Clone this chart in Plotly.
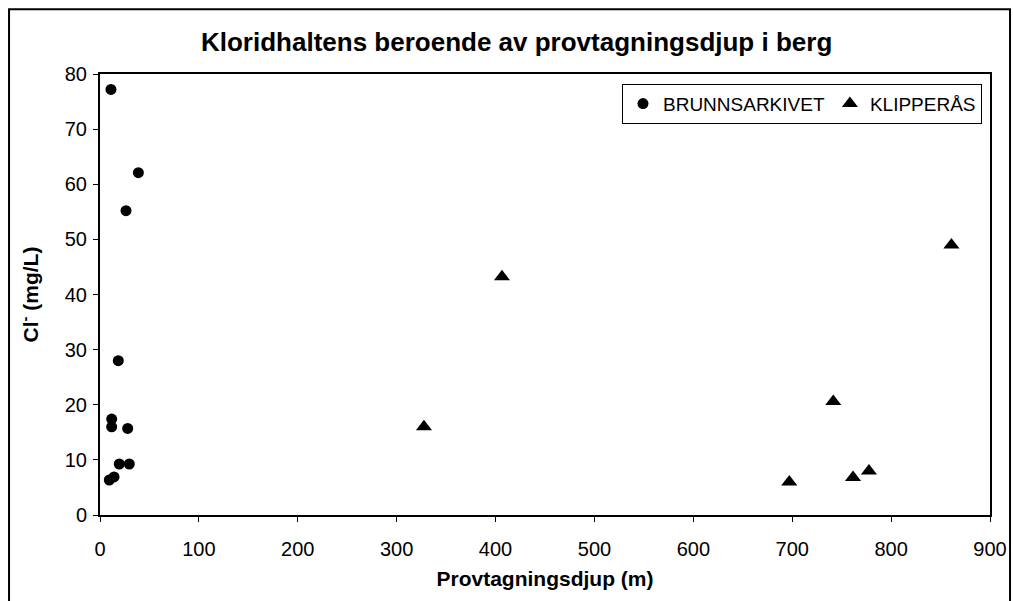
import plotly.graph_objects as go

# Sampling depth (m) and chloride concentration (mg/L) per well
brunnsarkivet_depth = [11.1, 38.8, 26.3, 18.5, 11.8, 11.8, 28.0, 19.5, 29.6, 9.4, 14.2]
brunnsarkivet_cl = [77.2, 62.1, 55.2, 28.0, 17.4, 16.0, 15.7, 9.25, 9.25, 6.35, 6.9]

klipperas_depth = [327.6, 406.5, 697.0, 741.5, 761.5, 777.6, 861.0]
klipperas_cl = [16.0, 43.2, 6.0, 20.6, 6.8, 8.0, 49.0]

x_ticks = list(range(0, 901, 100))
y_ticks = list(range(0, 81, 10))

FONT = "Liberation Sans, Arial, sans-serif"

fig = go.Figure()
fig.add_trace(go.Scatter(
    x=brunnsarkivet_depth, y=brunnsarkivet_cl, mode="markers",
    name="BRUNNSARKIVET",
    marker=dict(symbol="circle", size=11, color="black"),
))
fig.add_trace(go.Scatter(
    x=klipperas_depth, y=klipperas_cl, mode="markers",
    name="KLIPPERÅS",
    marker=dict(symbol="triangle-up", size=14, color="black"),
))

axis_common = dict(
    showline=True, linecolor="black", linewidth=2, mirror=True,
    ticks="outside", ticklen=5, tickwidth=1, tickcolor="black",
    showgrid=False, zeroline=False, automargin=False,
    tickfont=dict(family=FONT, size=20, color="black"),
)

fig.update_xaxes(
    range=[0, 900], tickvals=x_ticks, ticktext=[str(v) for v in x_ticks],
    ticklabelstandoff=10,
    title=dict(text="<b>Provtagningsdjup (m)</b>",
               font=dict(family=FONT, size=21, color="black"), standoff=12),
    **axis_common,
)
fig.update_yaxes(
    range=[0, 80], tickvals=y_ticks, ticktext=[str(v) for v in y_ticks],
    ticklabelstandoff=2,
    title=dict(text="<b>Cl<sup>-</sup> (mg/L)</b>",
               font=dict(family=FONT, size=21, color="black"), standoff=20),
    **axis_common,
)

fig.update_layout(
    width=1013, height=601,
    margin=dict(l=100, r=23, t=74, b=86),
    paper_bgcolor="white", plot_bgcolor="white",
    title=dict(text="<b>Kloridhaltens beroende av provtagningsdjup i berg</b>",
               font=dict(family=FONT, size=26, color="black"),
               x=0.51, xanchor="center", y=0.93, yanchor="middle"),
    showlegend=True,
    legend=dict(
        orientation="h", x=0.991, xanchor="right", y=0.978, yanchor="top",
        bordercolor="black", borderwidth=1, bgcolor="white",
        font=dict(family=FONT, size=19, color="black"),
        itemwidth=30, tracegroupgap=0,
    ),
    shapes=[dict(
        type="rect", xref="paper", yref="paper",
        x0=-0.1022, x1=1.0225, y0=-0.25, y1=1.147,
        line=dict(color="black", width=2), fillcolor="rgba(0,0,0,0)",
        layer="below",
    )],
)

fig.write_html("out.html")
